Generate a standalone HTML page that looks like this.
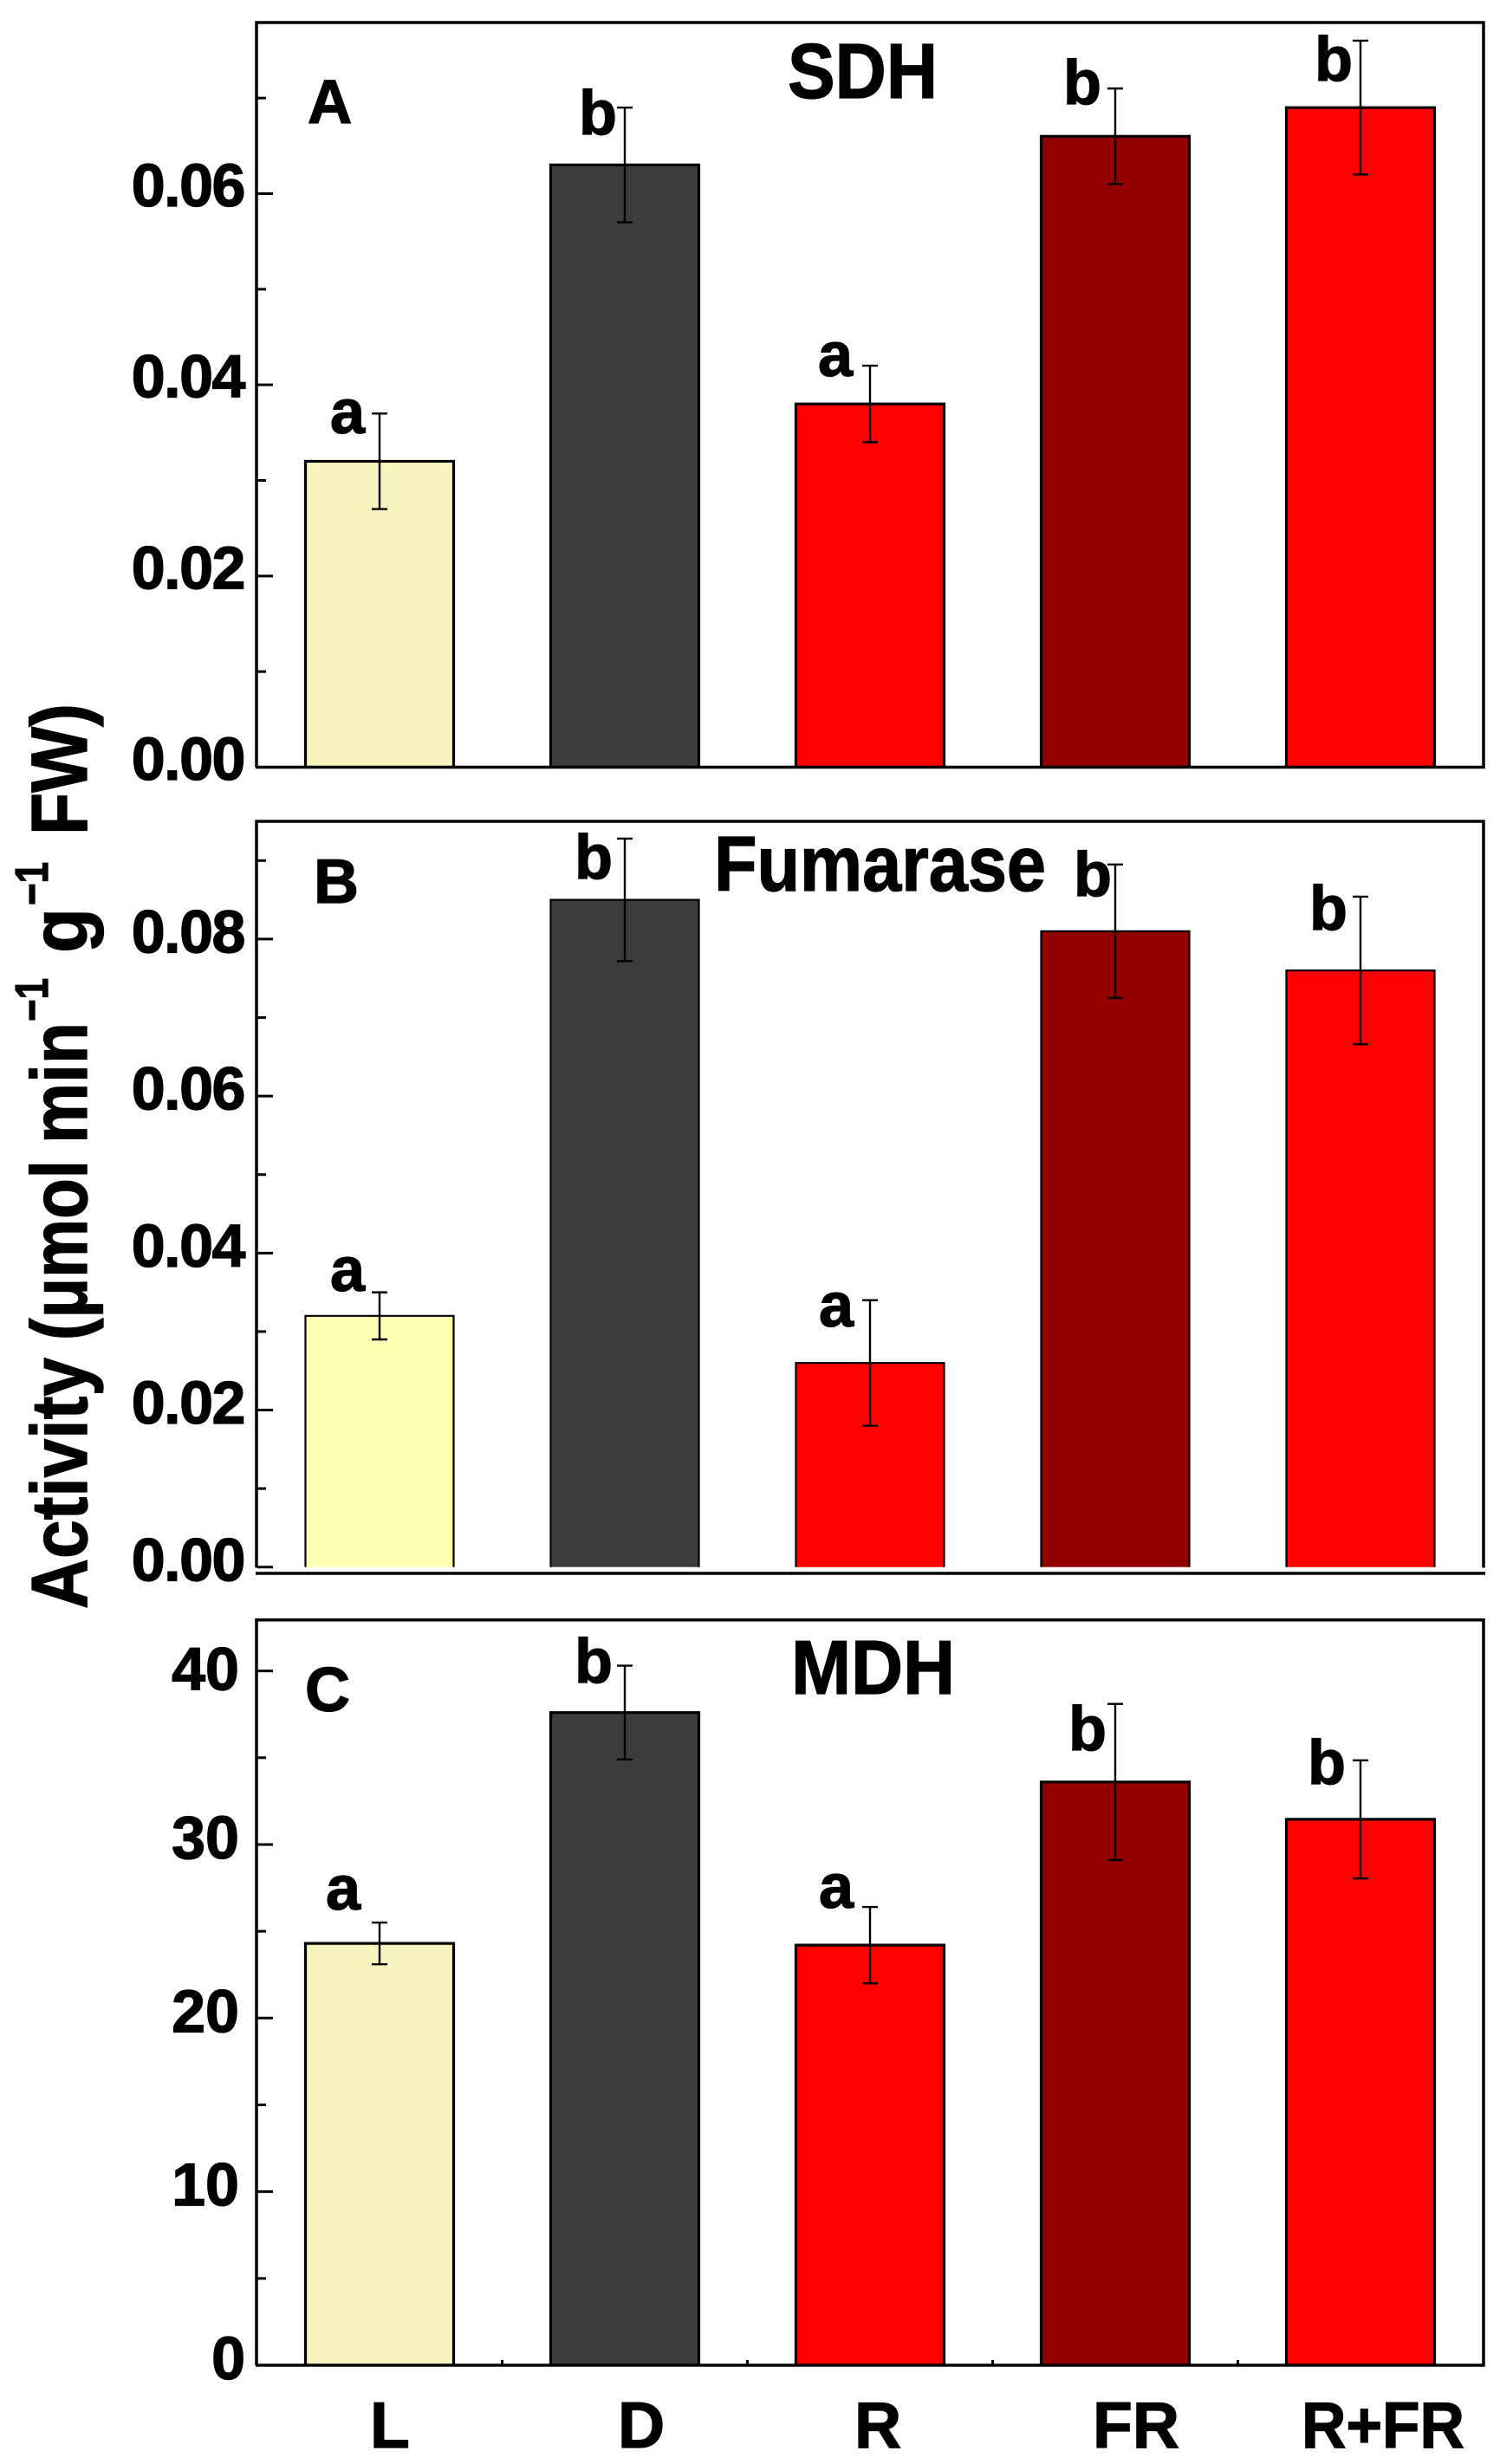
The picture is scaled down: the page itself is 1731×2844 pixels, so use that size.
<!DOCTYPE html>
<html lang="en">
<head>
<meta charset="utf-8">
<title>Enzyme activity bar charts</title>
<style>
html,body{margin:0;padding:0;background:#fff;}
svg{display:block;}
text{font-family:"Liberation Sans",Arial,sans-serif;font-weight:700;fill:#000;stroke:#000;stroke-width:1.3px;}
</style>
</head>
<body>
<svg id="figure" xmlns="http://www.w3.org/2000/svg" width="1731" height="2844" viewBox="0 0 1731 2844">
  <rect x="0" y="0" width="1731" height="2844" fill="#fff"/>

  <g transform="translate(100,1857) rotate(-90)">
    <text x="0" y="0" font-size="92" textLength="290" lengthAdjust="spacingAndGlyphs">Activity</text>
    <text x="310" y="0" font-size="92" textLength="208" lengthAdjust="spacingAndGlyphs">(μmol</text>
    <text x="537" y="0" font-size="92" textLength="140" lengthAdjust="spacingAndGlyphs">min</text>
    <text x="678" y="-45" font-size="54" textLength="50" lengthAdjust="spacingAndGlyphs">−1</text>
    <text x="757" y="0" font-size="92" textLength="52" lengthAdjust="spacingAndGlyphs">g</text>
    <text x="812" y="-45" font-size="54" textLength="50" lengthAdjust="spacingAndGlyphs">−1</text>
    <text x="893" y="0" font-size="92" textLength="152" lengthAdjust="spacingAndGlyphs">FW)</text>
  </g>

  <g id="panelA"></g>
  <g id="panelB"></g>
  <g id="panelC"></g>

  <g>
    <text x="355" y="142" font-size="71">A</text>
    <text x="909" y="113" font-size="90" textLength="173" lengthAdjust="spacingAndGlyphs">SDH</text>
    <text x="381" y="500" font-size="72">a</text>
    <text x="668" y="155" font-size="72">b</text>
    <text x="944" y="434" font-size="72">a</text>
    <text x="1227" y="120" font-size="72">b</text>
    <text x="1517" y="93" font-size="72">b</text>
  </g>
  <g>
    <text x="362" y="1042" font-size="72">B</text>
    <text x="824" y="1028" font-size="90" textLength="383" lengthAdjust="spacingAndGlyphs">Fumarase</text>
    <text x="381" y="1490" font-size="72">a</text>
    <text x="663" y="1014" font-size="72">b</text>
    <text x="945" y="1531" font-size="72">a</text>
    <text x="1239" y="1034" font-size="72">b</text>
    <text x="1511" y="1073" font-size="72">b</text>
  </g>
  <g>
    <text x="352" y="1975" font-size="72">C</text>
    <text x="913" y="1955" font-size="88" textLength="189" lengthAdjust="spacingAndGlyphs">MDH</text>
    <text x="376" y="2204" font-size="72">a</text>
    <text x="663" y="1942" font-size="72">b</text>
    <text x="945" y="2202" font-size="72">a</text>
    <text x="1233" y="2020" font-size="72">b</text>
    <text x="1509" y="2059" font-size="72">b</text>
  </g>
  <g>
    <text x="427" y="2825" font-size="75">L</text>
    <text x="713" y="2825" font-size="75">D</text>
    <text x="986" y="2825" font-size="75">R</text>
    <text x="1261" y="2825" font-size="75" textLength="100" lengthAdjust="spacingAndGlyphs">FR</text>
    <text x="1502" y="2825" font-size="75" textLength="188" lengthAdjust="spacingAndGlyphs">R+FR</text>
  </g>
</svg>

<script>
const categories = ['L', 'D', 'R', 'FR', 'R+FR'];

const sdhValues = [0.032, 0.063, 0.038, 0.066, 0.069];
const sdhErrors = [0.005, 0.006, 0.004, 0.005, 0.007];
const sdhMajorTicks = [0, 0.02, 0.04, 0.06];
const sdhMinorTicks = [0.01, 0.03, 0.05, 0.07];
const sdhTickLabels = ['0.00', '0.02', '0.04', '0.06'];

const fumaraseValues = [0.032, 0.085, 0.026, 0.081, 0.076];
const fumaraseErrors = [0.003, 0.0078, 0.008, 0.0085, 0.0094];
const fumaraseMajorTicks = [0, 0.02, 0.04, 0.06, 0.08];
const fumaraseMinorTicks = [0.01, 0.03, 0.05, 0.07, 0.09];
const fumaraseTickLabels = ['0.00', '0.02', '0.04', '0.06', '0.08'];

const mdhValues = [24.3, 37.6, 24.2, 33.6, 31.45];
const mdhErrors = [1.2, 2.7, 2.2, 4.5, 3.4];
const mdhMajorTicks = [0, 10, 20, 30, 40];
const mdhMinorTicks = [5, 15, 25, 35];
const mdhTickLabels = ['0', '10', '20', '30', '40'];

const SVG_NS = 'http://www.w3.org/2000/svg';
const PLOT_LEFT = 297;
const PLOT_RIGHT = 1712;
const CATEGORY_STEP = 283;
const BAR_WIDTH = 171;

function xScale(index) {
  return 438 + index * CATEGORY_STEP;
}

function makeYScale(domainMax, pixelTop, pixelBottom) {
  return function (value) {
    return pixelBottom - (value / domainMax) * (pixelBottom - pixelTop);
  };
}

function mk(parent, tag, attrs) {
  const el = document.createElementNS(SVG_NS, tag);
  Object.keys(attrs).forEach(function (k) { el.setAttribute(k, attrs[k]); });
  parent.appendChild(el);
  return el;
}

function drawPanel(opts) {
  const g = document.getElementById(opts.id);
  const y = makeYScale(opts.domainMax, opts.top, opts.bottom);
  const prefix = opts.prefix;

  categories.forEach(function (cat, i) {
    const cx = xScale(i);
    const left = cx - BAR_WIDTH / 2;
    const right = cx + BAR_WIDTH / 2;
    const barTop = y(opts.values[i]);
    const bar = mk(g, 'path', {
      d: 'M' + left + ' ' + opts.bottom + ' V' + barTop + ' H' + right + ' V' + opts.bottom,
      fill: opts.colors[i],
      stroke: '#000',
      'stroke-width': opts.barStroke
    });
    
    

    const hi = y(opts.values[i] + opts.errors[i]);
    const lo = y(opts.values[i] - opts.errors[i]);
    const err = mk(g, 'path', {
      d: 'M' + cx + ' ' + hi + ' V' + lo +
         ' M' + (cx - 9) + ' ' + hi + ' H' + (cx + 9) +
         ' M' + (cx - 9) + ' ' + lo + ' H' + (cx + 9),
      fill: 'none',
      stroke: '#000',
      'stroke-width': 2.4
    });
    
    
  });

  opts.majorTicks.forEach(function (value, i) {
    const ty = y(value);
    const tick = mk(g, 'line', { x1: PLOT_LEFT, x2: PLOT_LEFT + 18, y1: ty, y2: ty, stroke: '#000', 'stroke-width': 3 });
    
    

    const dy = (opts.prefix === 'mdh' && value === 40) ? 22 : opts.labelDy;
    const label = mk(g, 'text', {
      x: opts.labelRight(opts.tickLabels[i]),
      y: ty + dy,
      'font-size': 70,
      'text-anchor': 'end',
      'letter-spacing': opts.labelSpacing
    });
    label.textContent = opts.tickLabels[i];
    
    
  });

  opts.minorTicks.forEach(function (value) {
    const ty = y(value);
    const tick = mk(g, 'line', { x1: PLOT_LEFT, x2: PLOT_LEFT + 10, y1: ty, y2: ty, stroke: '#000', 'stroke-width': 3 });
    
    
  });

  const frame = mk(g, 'path', {
    d: opts.framePath,
    fill: 'none',
    stroke: '#000',
    'stroke-width': 3.5
  });
  
  
}

drawPanel({
  id: 'panelA', prefix: 'sdh', domainMax: 0.0779, top: 26, bottom: 885.5,
  values: sdhValues, errors: sdhErrors,
  majorTicks: sdhMajorTicks, minorTicks: sdhMinorTicks, tickLabels: sdhTickLabels,
  colors: ['#f6f3bc', '#3c3c3c', '#ff0000', '#930000', '#ff0000'],
  barStroke: 3.2, labelSpacing: -1.5, labelDy: 14.5,
  labelRight: function () { return 282; },
  framePath: 'M296 885.5 V26 H1712 V885.5 H295'
});

drawPanel({
  id: 'panelB', prefix: 'fumarase', domainMax: 0.095, top: 948, bottom: 1808.75,
  values: fumaraseValues, errors: fumaraseErrors,
  majorTicks: fumaraseMajorTicks, minorTicks: fumaraseMinorTicks, tickLabels: fumaraseTickLabels,
  colors: ['#ffffb4', '#3c3c3c', '#ff0000', '#930000', '#ff0000'],
  barStroke: 2.2, labelSpacing: -1.5, labelDy: 15.5,
  labelRight: function () { return 282; },
  framePath: 'M296 1809.5 V948 H1712 V1809.5'
});

const fumaraseBaseline = mk(document.getElementById('panelB'), 'line', { x1: 295, x2: 1714, y1: 1816, y2: 1816, stroke: '#000', 'stroke-width': 3.5 });



drawPanel({
  id: 'panelC', prefix: 'mdh', domainMax: 42.94, top: 1869.7, bottom: 2730,
  values: mdhValues, errors: mdhErrors,
  majorTicks: mdhMajorTicks, minorTicks: mdhMinorTicks, tickLabels: mdhTickLabels,
  colors: ['#f6f3bc', '#3c3c3c', '#ff0000', '#930000', '#ff0000'],
  barStroke: 3.2, labelSpacing: 0, labelDy: 16,
  labelRight: function (t) { return t === '0' ? 283 : 276; },
  framePath: 'M296 2730 V1869.7 H1712 V2730 H295'
});

categories.slice(0, 4).forEach(function (cat, i) {
  const tx = xScale(i) + CATEGORY_STEP / 2;
  const tick = mk(document.getElementById('panelC'), 'line', { x1: tx, x2: tx, y1: 2730, y2: 2724, stroke: '#000', 'stroke-width': 3 });
  
  
});
</script>
</body>
</html>
